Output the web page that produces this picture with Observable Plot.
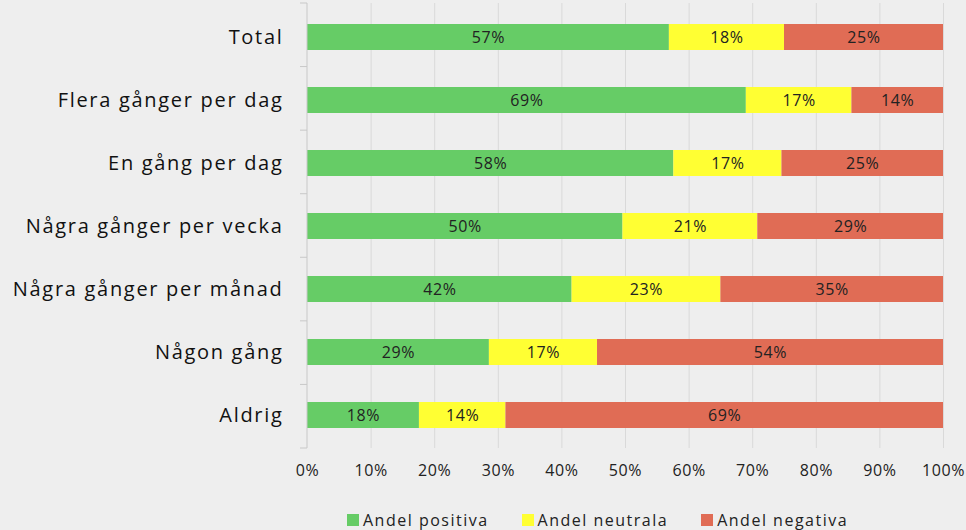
<!DOCTYPE html>
<html>
<head>
<meta charset="utf-8">
<script src="https://cdn.jsdelivr.net/npm/d3@7"></script>
<script src="https://cdn.jsdelivr.net/npm/@observablehq/plot@0.6"></script>
<style>
  html, body { margin: 0; padding: 0; background: #eeeeee; }
  body { width: 966px; height: 530px; overflow: hidden; font-family: "Open Sans", sans-serif; }
  #chart svg { display: block; background: transparent; }
  #legend { position: absolute; top: 509px; left: 347px; display: flex; gap: 0; font-size: 16px; letter-spacing: 1.5px; color: #222; }
  .item { display: flex; align-items: center; margin-right: 33px; }
  .sw { width: 12px; height: 12px; margin-right: 4px; }
  g[aria-label="y-axis tick label"] text { letter-spacing: 1.7px; }
  g[aria-label="x-axis tick label"] text { letter-spacing: 0.6px; }
  g[aria-label="text"] text { letter-spacing: 0.6px; }
</style>
</head>
<body>
<div id="chart"></div>
<div id="legend"></div>
<script>
const categories = ["Total", "Flera gånger per dag", "En gång per dag", "Några gånger per vecka", "Några gånger per månad", "Någon gång", "Aldrig"];
const series = ["Andel positiva", "Andel neutrala", "Andel negativa"];
const colors = ["#66cc66", "#ffff33", "#e06c55"];
const positiva = [56.9, 69.0, 57.6, 49.6, 41.6, 28.6, 17.6];
const neutrala = [18.1, 16.6, 17.0, 21.2, 23.4, 17.0, 13.6];
const negativa = [25.0, 14.4, 25.4, 29.2, 35.0, 54.4, 68.8];
const xTicks = [0, 10, 20, 30, 40, 50, 60, 70, 80, 90, 100];

const values = [positiva, neutrala, negativa];
const data = [];
series.forEach((s, si) => categories.forEach((c, ci) => data.push({cat: c, series: s, value: values[si][ci]})));

const chart = Plot.plot({
  width: 966,
  height: 490,
  marginLeft: 307,
  marginRight: 23,
  marginTop: 3,
  marginBottom: 42,
  style: {background: "transparent", fontFamily: "Open Sans, sans-serif"},
  x: {domain: [0, 100], ticks: xTicks, tickFormat: d => d + "%", grid: false, label: null},
  y: {domain: categories, paddingInner: 0.59, paddingOuter: 0.295, label: null},
  color: {domain: series, range: colors},
  marks: [
    Plot.ruleX(xTicks.slice(1), {stroke: "#d9d9d9", strokeWidth: 1}),
    Plot.barX(data, Plot.stackX({x: "value", y: "cat", fill: "series", order: series})),
    Plot.textX(data, Plot.stackX({x: "value", y: "cat", z: "series", order: series, text: d => Math.round(d.value) + "%", fill: "#222", fontSize: 16})),
    Plot.axisX({ticks: xTicks, tickFormat: d => d + "%", tickSize: 0, tickPadding: 16, fontSize: 16, color: "#222", label: null}),
    Plot.axisY({tickSize: 0, tickPadding: 24, fontSize: 20, color: "#111", label: null})
  ]
});
document.getElementById("chart").appendChild(chart);

// y axis line and boundary ticks from the plot's own band scale
const ys = chart.scale("y");
const xs = chart.scale("x");
const x0 = xs.apply(0);
const svg = d3.select(chart);
const yTop = ys.range[0], yBottom = ys.range[1];
const g = svg.append("g").attr("stroke", "#c8c8c8");
g.append("line").attr("x1", x0).attr("x2", x0).attr("y1", yTop).attr("y2", yBottom);
for (let i = 0; i <= categories.length; i++) {
  const yy = yTop + (yBottom - yTop) * i / categories.length;
  g.append("line").attr("x1", x0 - 7).attr("x2", x0).attr("y1", yy).attr("y2", yy);
}

const legend = document.getElementById("legend");
series.forEach((s, i) => {
  const it = document.createElement("div"); it.className = "item";
  const sw = document.createElement("div"); sw.className = "sw"; sw.style.background = colors[i];
  const t = document.createElement("span"); t.textContent = s;
  it.appendChild(sw); it.appendChild(t); legend.appendChild(it);
});
</script>
</body>
</html>
